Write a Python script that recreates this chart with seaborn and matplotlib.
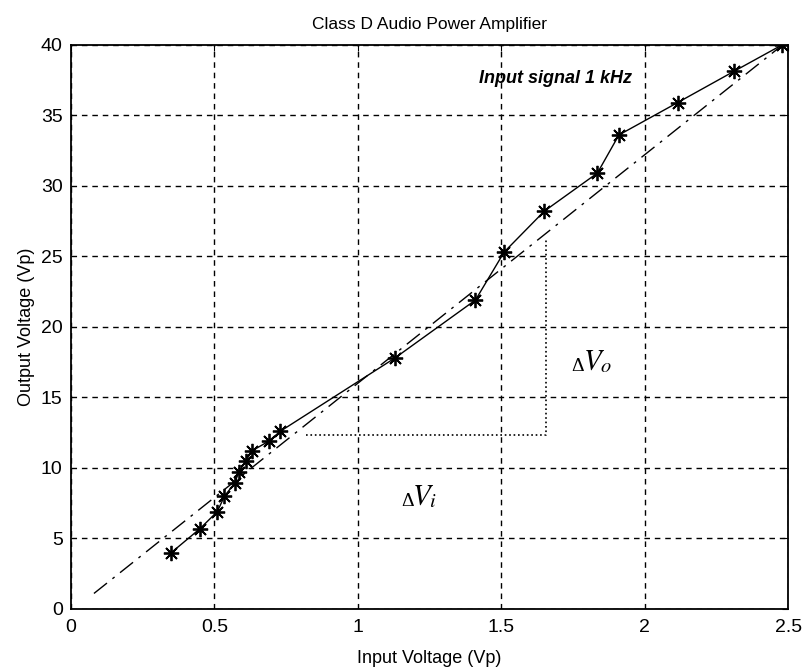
import matplotlib
matplotlib.use("Agg")
import matplotlib.pyplot as plt
import seaborn as sns
import pandas as pd

# ===================== data =====================
vin = [0.35, 0.45, 0.51, 0.535, 0.57, 0.585, 0.61, 0.63, 0.69, 0.73,
       1.13, 1.41, 1.51, 1.65, 1.835, 1.91, 2.115, 2.31, 2.48]
vout = [4.0, 5.7, 6.9, 8.0, 8.9, 9.7, 10.5, 11.2, 11.9, 12.6,
        17.8, 21.9, 25.3, 28.2, 30.9, 33.6, 35.9, 38.1, 40.0]

fit_x = [0.08, 2.5]
fit_y = [1.1, 40.3]

# delta guide (dotted)
delta_x = [0.82, 1.656, 1.656]
delta_y = [12.3, 12.3, 26.3]

xticks = [0, 0.5, 1, 1.5, 2, 2.5]
xticklabels = ["0", "0.5", "1", "1.5", "2", "2.5"]
yticks = [0, 5, 10, 15, 20, 25, 30, 35, 40]

# ===================== plot =====================
sns.set_style("white")
plt.rcParams["font.family"] = ["Liberation Sans", "DejaVu Sans"]
plt.rcParams["text.color"] = "black"
plt.rcParams["axes.labelcolor"] = "black"

fig = plt.figure(figsize=(8.04, 6.67), dpi=100)
ax = fig.add_axes([0.0883, 0.087, 0.892, 0.846])

meas = pd.DataFrame({"vin": vin, "vout": vout})
fit = pd.DataFrame({"vin": fit_x, "vout": fit_y})

# linear fit (dash-dot)
sns.lineplot(data=fit, x="vin", y="vout", ax=ax, color="black",
             linewidth=1.0, sort=False)
ax.lines[-1].set_dashes([12, 5, 2, 5])

# measured points
sns.lineplot(data=meas, x="vin", y="vout", ax=ax, color="black",
             linewidth=1.0, marker=(8, 2, 0), markersize=11,
             markeredgewidth=1.3, markeredgecolor="black", sort=False)

ax.plot(delta_x, delta_y, color="black", linestyle=":", linewidth=1.2)

ax.set_xlim(0, 2.5)
ax.set_ylim(0, 40)
ax.set_xticks(xticks)
ax.set_xticklabels(xticklabels)
ax.set_yticks(yticks)
ax.grid(True, color="black", linestyle=(0, (4, 3.5)), linewidth=1.0)
for s in ax.spines.values():
    s.set_color("black")
    s.set_linewidth(1.3)
ax.tick_params(axis="both", labelsize=14, colors="black", length=4,
               direction="in", top=True, right=True)
ax.tick_params(axis="x", pad=7)
ax.tick_params(axis="y", pad=6)

ax.set_title("Class D Audio Power Amplifier", fontsize=12.5, pad=11)
ax.set_xlabel("Input Voltage (Vp)", fontsize=13, labelpad=10)
ax.set_ylabel("Output Voltage (Vp)", fontsize=13, labelpad=4)

ax.text(1.69, 37.6, "Input signal 1 kHz", fontsize=13, fontweight="bold",
        fontstyle="italic", ha="center", va="center")

# delta annotations
ax.text(1.745, 17.2, "\u0394", fontsize=14, ha="left", va="center",
        family="Liberation Serif")
ax.text(1.785, 17.6, r"$V_o$", fontsize=21, ha="left", va="center",
        math_fontfamily="stix")
ax.text(1.15, 7.6, "\u0394", fontsize=14, ha="left", va="center",
        family="Liberation Serif")
ax.text(1.19, 8.0, r"$V_i$", fontsize=21, ha="left", va="center",
        math_fontfamily="stix")

plt.savefig("out.png", dpi=100)
